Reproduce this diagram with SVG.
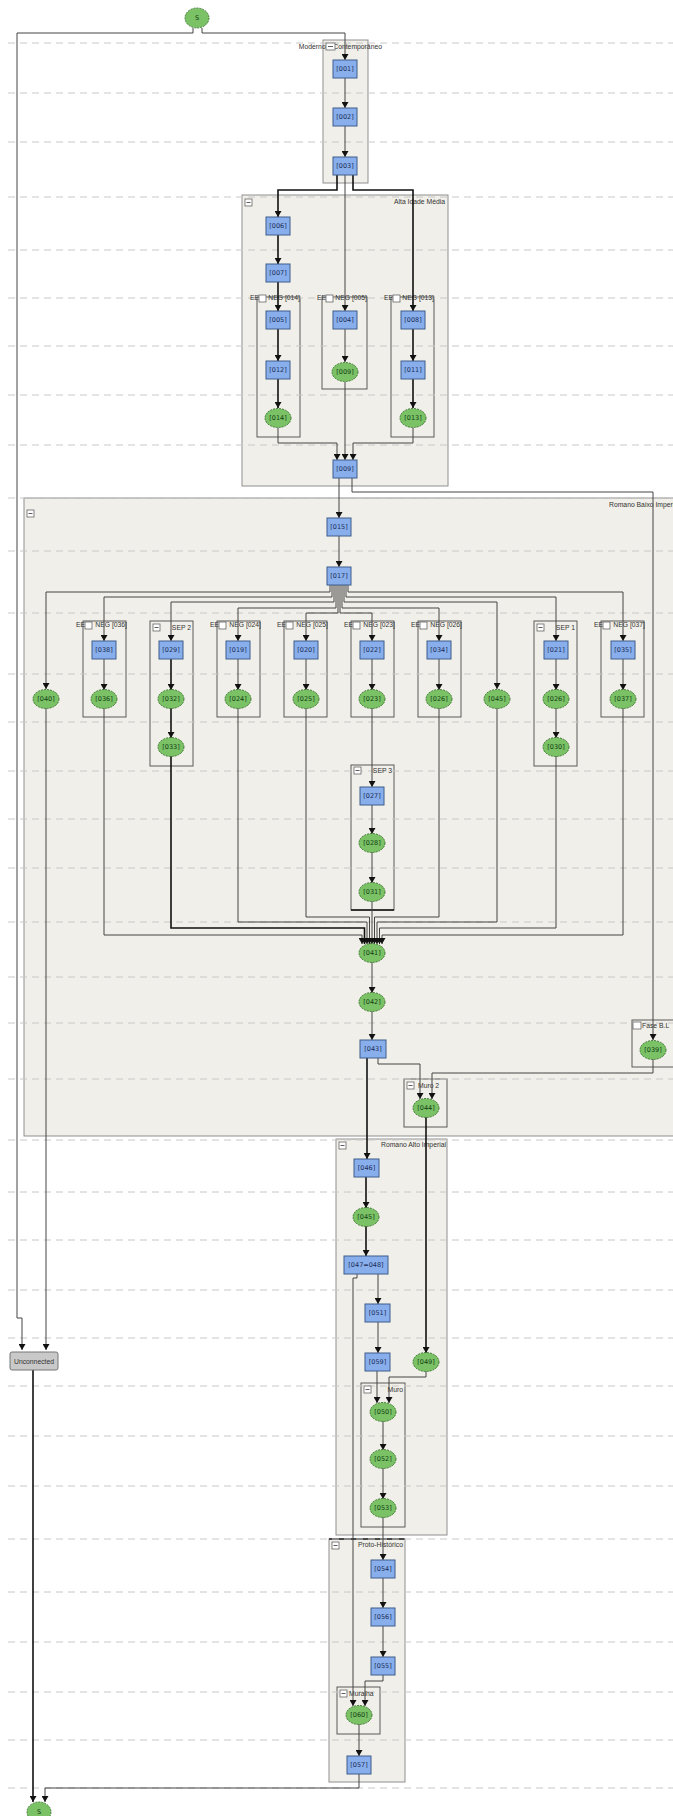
<svg xmlns="http://www.w3.org/2000/svg" width="673" height="1816" viewBox="0 0 673 1816">
<defs>
<marker id="ar" markerUnits="userSpaceOnUse" markerWidth="7" markerHeight="7" refX="6" refY="3.5" orient="auto"><path d="M0,0 L6,3.5 L0,7 z" fill="#111"/></marker>
<style>
.lane{stroke:#c8c8c8;stroke-width:1;stroke-dasharray:7 5}
.grp{fill:#f1efe9;stroke:#8f8f8f;stroke-width:1}
.sub{fill:#f1efe9;stroke:#5a5a5a;stroke-width:1}
.r{fill:#88afec;stroke:#3f5c8c;stroke-width:1}
.e{fill:#7bc267;stroke:#2c6420;stroke-width:0.8;stroke-dasharray:2 1}
.u{fill:#c9c9c9;stroke:#777;stroke-width:1}
.t{font-family:"DejaVu Sans",sans-serif;font-size:6.5px;text-anchor:middle;fill:#1d2c55}
.te{font-family:"DejaVu Sans",sans-serif;font-size:6.5px;text-anchor:middle;fill:#123d12}
.g{font-family:"Liberation Sans",Arial,sans-serif;font-size:6.8px;fill:#333}
.cb{fill:#fff;stroke:#666;stroke-width:0.8}
.c{fill:none;stroke:#444;stroke-width:1;marker-end:url(#ar)}
.k{fill:none;stroke:#111;stroke-width:1.6;marker-end:url(#ar)}
</style>
</defs>
<rect width="673" height="1816" fill="#fff"/>

<g id="containers">
<rect class="grp" x="323" y="40" width="45" height="143"/>
<rect class="grp" x="242" y="195" width="206" height="291"/>
<rect class="sub" x="257" y="297" width="43" height="140"/>
<rect class="sub" x="322" y="297" width="45" height="92"/>
<rect class="sub" x="391" y="297" width="43" height="140"/>
<rect class="grp" x="24" y="498" width="660" height="638"/>
<rect class="sub" x="83" y="621" width="43" height="96"/>
<rect class="sub" x="150" y="621" width="43" height="145"/>
<rect class="sub" x="217" y="621" width="43" height="96"/>
<rect class="sub" x="284" y="621" width="43" height="96"/>
<rect class="sub" x="351" y="621" width="43" height="96"/>
<rect class="sub" x="418" y="621" width="43" height="96"/>
<rect class="sub" x="534" y="621" width="43" height="145"/>
<rect class="sub" x="601" y="621" width="43" height="96"/>
<rect class="sub" x="351" y="765" width="43" height="145"/>
<line x1="351" y1="910" x2="394" y2="910" stroke="#111" stroke-width="1.6"/>
<rect class="sub" x="632" y="1020" width="50" height="47"/>
<rect class="sub" x="404" y="1079" width="43" height="48"/>
<rect class="grp" x="336" y="1139" width="111" height="396"/>
<rect class="sub" x="361" y="1383" width="44" height="144"/>
<rect class="grp" x="329" y="1539" width="76" height="243"/>
<line x1="329" y1="1539" x2="405" y2="1539" stroke="#222" stroke-width="1.4"/>
<rect class="sub" x="337" y="1687" width="43" height="47"/>
</g>

<g id="lanes">
<line class="lane" x1="8" y1="43" x2="673" y2="43"/>
<line class="lane" x1="8" y1="93" x2="673" y2="93"/>
<line class="lane" x1="8" y1="142" x2="673" y2="142"/>
<line class="lane" x1="8" y1="197" x2="673" y2="197"/>
<line class="lane" x1="8" y1="250" x2="673" y2="250"/>
<line class="lane" x1="8" y1="298" x2="673" y2="298"/>
<line class="lane" x1="8" y1="346" x2="673" y2="346"/>
<line class="lane" x1="8" y1="395" x2="673" y2="395"/>
<line class="lane" x1="8" y1="445" x2="673" y2="445"/>
<line class="lane" x1="8" y1="498" x2="673" y2="498"/>
<line class="lane" x1="8" y1="551" x2="673" y2="551"/>
<line class="lane" x1="8" y1="613" x2="673" y2="613"/>
<line class="lane" x1="8" y1="674" x2="673" y2="674"/>
<line class="lane" x1="8" y1="722" x2="673" y2="722"/>
<line class="lane" x1="8" y1="771" x2="673" y2="771"/>
<line class="lane" x1="8" y1="819" x2="673" y2="819"/>
<line class="lane" x1="8" y1="868" x2="673" y2="868"/>
<line class="lane" x1="8" y1="922" x2="673" y2="922"/>
<line class="lane" x1="8" y1="977" x2="673" y2="977"/>
<line class="lane" x1="8" y1="1023" x2="673" y2="1023"/>
<line class="lane" x1="8" y1="1079" x2="673" y2="1079"/>
<line class="lane" x1="8" y1="1140" x2="673" y2="1140"/>
<line class="lane" x1="8" y1="1192" x2="673" y2="1192"/>
<line class="lane" x1="8" y1="1240" x2="673" y2="1240"/>
<line class="lane" x1="8" y1="1290" x2="673" y2="1290"/>
<line class="lane" x1="8" y1="1338" x2="673" y2="1338"/>
<line class="lane" x1="8" y1="1386" x2="673" y2="1386"/>
<line class="lane" x1="8" y1="1436" x2="673" y2="1436"/>
<line class="lane" x1="8" y1="1486" x2="673" y2="1486"/>
<line class="lane" x1="8" y1="1539" x2="673" y2="1539"/>
<line class="lane" x1="8" y1="1592" x2="673" y2="1592"/>
<line class="lane" x1="8" y1="1642" x2="673" y2="1642"/>
<line class="lane" x1="8" y1="1692" x2="673" y2="1692"/>
<line class="lane" x1="8" y1="1740" x2="673" y2="1740"/>
<line class="lane" x1="8" y1="1788" x2="673" y2="1788"/>
</g>

<g id="container-labels">
<text class="g" x="382" y="49" text-anchor="end">Moderno e Contemporâneo</text>
<rect class="cb" x="326" y="43" width="9" height="7"/><line x1="328" y1="46.5" x2="333" y2="46.5" stroke="#333" stroke-width="0.8"/>
<text class="g" x="445" y="204" text-anchor="end">Alta Idade Média</text>
<rect class="cb" x="245" y="199" width="7" height="7"/><line x1="246.5" y1="202.5" x2="250.5" y2="202.5" stroke="#333" stroke-width="0.8"/>

<text class="g" x="259" y="300" text-anchor="end">EE</text>
<rect class="cb" x="259" y="295" width="7" height="7"/>
<text class="g" x="300" y="300" text-anchor="end">NEG [014]</text>
<text class="g" x="326" y="300" text-anchor="end">EE</text>
<rect class="cb" x="326" y="295" width="7" height="7"/>
<text class="g" x="367" y="300" text-anchor="end">NEG [005]</text>
<text class="g" x="393" y="300" text-anchor="end">EE</text>
<rect class="cb" x="393" y="295" width="7" height="7"/>
<text class="g" x="434" y="300" text-anchor="end">NEG [013]</text>

<text class="g" x="609" y="507">Romano Baixo Imperial</text>
<rect class="cb" x="27" y="510" width="7" height="7"/><line x1="28.5" y1="513.5" x2="32.5" y2="513.5" stroke="#333" stroke-width="0.8"/>

<text class="g" x="85" y="627" text-anchor="end">EE</text>
<rect class="cb" x="85" y="622" width="7" height="7"/>
<text class="g" x="127" y="627" text-anchor="end">NEG [036]</text>
<text class="g" x="191" y="630" text-anchor="end">SEP 2</text>
<rect class="cb" x="153" y="624" width="7" height="7"/><line x1="154.5" y1="627.5" x2="158.5" y2="627.5" stroke="#333" stroke-width="0.8"/>
<text class="g" x="219" y="627" text-anchor="end">EE</text>
<rect class="cb" x="219" y="622" width="7" height="7"/>
<text class="g" x="261" y="627" text-anchor="end">NEG [024]</text>
<text class="g" x="286" y="627" text-anchor="end">EE</text>
<rect class="cb" x="286" y="622" width="7" height="7"/>
<text class="g" x="328" y="627" text-anchor="end">NEG [025]</text>
<text class="g" x="353" y="627" text-anchor="end">EE</text>
<rect class="cb" x="353" y="622" width="7" height="7"/>
<text class="g" x="395" y="627" text-anchor="end">NEG [023]</text>
<text class="g" x="420" y="627" text-anchor="end">EE</text>
<rect class="cb" x="420" y="622" width="7" height="7"/>
<text class="g" x="462" y="627" text-anchor="end">NEG [026]</text>
<text class="g" x="575" y="630" text-anchor="end">SEP 1</text>
<rect class="cb" x="537" y="624" width="7" height="7"/><line x1="538.5" y1="627.5" x2="542.5" y2="627.5" stroke="#333" stroke-width="0.8"/>
<text class="g" x="603" y="627" text-anchor="end">EE</text>
<rect class="cb" x="603" y="622" width="7" height="7"/>
<text class="g" x="645" y="627" text-anchor="end">NEG [037]</text>
<text class="g" x="392" y="773" text-anchor="end">SEP 3</text>
<rect class="cb" x="354" y="767" width="7" height="7"/><line x1="355.5" y1="770.5" x2="359.5" y2="770.5" stroke="#333" stroke-width="0.8"/>
<rect class="cb" x="633" y="1022" width="8" height="7"/>
<text class="g" x="642" y="1028">Fase B.L</text>
<text class="g" x="418" y="1088">Muro 2</text>
<rect class="cb" x="407" y="1082" width="7" height="7"/><line x1="408.5" y1="1085.5" x2="412.5" y2="1085.5" stroke="#333" stroke-width="0.8"/>
<text class="g" x="446" y="1147" text-anchor="end">Romano Alto Imperial</text>
<rect class="cb" x="339" y="1142" width="7" height="7"/><line x1="340.5" y1="1145.5" x2="344.5" y2="1145.5" stroke="#333" stroke-width="0.8"/>
<text class="g" x="403" y="1392" text-anchor="end">Muro</text>
<rect class="cb" x="364" y="1386" width="7" height="7"/><line x1="365.5" y1="1389.5" x2="369.5" y2="1389.5" stroke="#333" stroke-width="0.8"/>
<text class="g" x="403" y="1547" text-anchor="end">Proto-Histórico</text>
<rect class="cb" x="332" y="1542" width="7" height="7"/><line x1="333.5" y1="1545.5" x2="337.5" y2="1545.5" stroke="#333" stroke-width="0.8"/>
<text class="g" x="349" y="1696">Muralha</text>
<rect class="cb" x="340" y="1690" width="7" height="7"/><line x1="341.5" y1="1693.5" x2="345.5" y2="1693.5" stroke="#333" stroke-width="0.8"/>
</g>

<g id="connectors">
<path class="c" d="M193,28 V33 H17 V1318 H22 V1350"/>
<path class="c" d="M202,28 V33 H345 V60"/>
<path class="c" d="M345,78 V108"/>
<path class="c" d="M345,126 V157"/>
<path class="k" d="M337,175 V190 H278 V217"/>
<path class="c" d="M345,175 V311"/>
<path class="k" d="M353,175 V190 H413 V311"/>
<path class="k" d="M278,235 V264"/>
<path class="k" d="M278,282 V311"/>
<path class="k" d="M278,329 V361"/>
<path class="k" d="M278,379 V408"/>
<path class="c" d="M345,329 V362"/>
<path class="k" d="M413,329 V361"/>
<path class="k" d="M413,379 V408"/>
<path class="c" d="M278,428 V443 H337 V460"/>
<path class="c" d="M345,382 V460"/>
<path class="c" d="M413,428 V443 H353 V460"/>
<path class="c" d="M339,478 V518"/>
<path class="c" d="M352,478 V492 H653 V1040"/>
<path class="c" d="M339,536 V567"/>
<path class="c" d="M330,585 V592 H46 V689"/>
<path class="c" d="M348,585 V592 H623 V641"/>
<path class="c" d="M332,585 V597 H104 V641"/>
<path class="c" d="M346,585 V597 H556 V641"/>
<path class="c" d="M334,585 V602 H171 V641"/>
<path class="c" d="M344,585 V602 H497 V689"/>
<path class="c" d="M336,585 V608 H238 V641"/>
<path class="c" d="M342,585 V608 H439 V641"/>
<path class="c" d="M338,585 V613 H306 V641"/>
<path class="c" d="M340,585 V613 H372 V641"/>
<path class="c" d="M104,659 V690"/>
<path class="k" d="M171,659 V690"/>
<path class="k" d="M171,708 V738"/>
<path class="c" d="M238,659 V690"/>
<path class="c" d="M306,659 V690"/>
<path class="c" d="M372,659 V690"/>
<path class="c" d="M439,659 V690"/>
<path class="c" d="M556,659 V690"/>
<path class="c" d="M556,708 V738"/>
<path class="c" d="M623,659 V690"/>
<path class="c" d="M46,708 V1350"/>
<path class="c" d="M104,708 V935 H362 V944"/>
<path class="k" d="M171,756 V928 H364.5 V944"/>
<path class="c" d="M238,708 V922 H367 V944"/>
<path class="c" d="M306,708 V917 H369.5 V944"/>
<path class="c" d="M372,708 V787"/>
<path class="c" d="M372,805 V834"/>
<path class="c" d="M372,852 V883"/>
<path class="c" d="M372,901 V944"/>
<path class="c" d="M439,708 V917 H374.5 V944"/>
<path class="c" d="M497,708 V922 H377 V944"/>
<path class="c" d="M556,756 V928 H379.5 V944"/>
<path class="c" d="M623,708 V935 H382 V944"/>
<path class="c" d="M372,962 V993"/>
<path class="c" d="M372,1011 V1040"/>
<path class="k" d="M367,1058 V1159"/>
<path class="c" d="M378,1058 V1064 H420 V1099"/>
<path class="c" d="M653,1059 V1073 H432 V1099"/>
<path class="k" d="M426,1117 V1353"/>
<path class="k" d="M366,1177 V1208"/>
<path class="k" d="M366,1226 V1256"/>
<path class="c" d="M378,1274 V1304"/>
<path class="c" d="M357,1274 V1278 H353 V1706"/>
<path class="c" d="M378,1322 V1353"/>
<path class="c" d="M377,1371 V1403"/>
<path class="c" d="M426,1371 V1377 H389 V1403"/>
<path class="c" d="M383,1421 V1450"/>
<path class="c" d="M383,1468 V1499"/>
<path class="c" d="M383,1517 V1560"/>
<path class="c" d="M383,1578 V1608"/>
<path class="c" d="M383,1626 V1657"/>
<path class="c" d="M383,1675 V1681 H365 V1706"/>
<path class="c" d="M359,1724 V1756"/>
<path class="c" d="M359,1774 V1788 H45 V1802"/>
<path class="k" d="M33,1370 V1802"/>
</g>

<g id="n-start"><ellipse class="e" cx="197" cy="18" rx="12" ry="10"/><text class="te" x="197" y="20">S</text></g>
<g id="n-001"><rect class="r" x="333" y="60" width="24" height="18"/><text class="t" x="345" y="71">[001]</text></g>
<g id="n-002"><rect class="r" x="333" y="108" width="24" height="18"/><text class="t" x="345" y="119">[002]</text></g>
<g id="n-003"><rect class="r" x="333" y="157" width="24" height="18"/><text class="t" x="345" y="168">[003]</text></g>
<g id="n-006"><rect class="r" x="266" y="217" width="24" height="18"/><text class="t" x="278" y="228">[006]</text></g>
<g id="n-007"><rect class="r" x="266" y="264" width="24" height="18"/><text class="t" x="278" y="275">[007]</text></g>
<g id="n-005"><rect class="r" x="266" y="311" width="24" height="18"/><text class="t" x="278" y="322">[005]</text></g>
<g id="n-012"><rect class="r" x="266" y="361" width="24" height="18"/><text class="t" x="278" y="372">[012]</text></g>
<g id="n-014"><ellipse class="e" cx="278" cy="418" rx="13" ry="9.5"/><text class="te" x="278" y="420">[014]</text></g>
<g id="n-004"><rect class="r" x="333" y="311" width="24" height="18"/><text class="t" x="345" y="322">[004]</text></g>
<g id="n-009e"><ellipse class="e" cx="345" cy="372" rx="13" ry="9.5"/><text class="te" x="345" y="374">[009]</text></g>
<g id="n-008"><rect class="r" x="401" y="311" width="24" height="18"/><text class="t" x="413" y="322">[008]</text></g>
<g id="n-011"><rect class="r" x="401" y="361" width="24" height="18"/><text class="t" x="413" y="372">[011]</text></g>
<g id="n-013"><ellipse class="e" cx="413" cy="418" rx="13" ry="9.5"/><text class="te" x="413" y="420">[013]</text></g>
<g id="n-009"><rect class="r" x="333" y="460" width="24" height="18"/><text class="t" x="345" y="471">[009]</text></g>
<g id="n-015"><rect class="r" x="327" y="518" width="24" height="18"/><text class="t" x="339" y="529">[015]</text></g>
<g id="n-017"><rect class="r" x="327" y="567" width="24" height="18"/><text class="t" x="339" y="578">[017]</text></g>
<g id="n-040"><ellipse class="e" cx="46" cy="699" rx="13" ry="9.5"/><text class="te" x="46" y="701">[040]</text></g>
<g id="n-038"><rect class="r" x="92" y="641" width="24" height="18"/><text class="t" x="104" y="652">[038]</text></g>
<g id="n-036"><ellipse class="e" cx="104" cy="699" rx="13" ry="9.5"/><text class="te" x="104" y="701">[036]</text></g>
<g id="n-029"><rect class="r" x="159" y="641" width="24" height="18"/><text class="t" x="171" y="652">[029]</text></g>
<g id="n-032"><ellipse class="e" cx="171" cy="699" rx="13" ry="9.5"/><text class="te" x="171" y="701">[032]</text></g>
<g id="n-033"><ellipse class="e" cx="171" cy="747" rx="13" ry="9.5"/><text class="te" x="171" y="749">[033]</text></g>
<g id="n-019"><rect class="r" x="226" y="641" width="24" height="18"/><text class="t" x="238" y="652">[019]</text></g>
<g id="n-024"><ellipse class="e" cx="238" cy="699" rx="13" ry="9.5"/><text class="te" x="238" y="701">[024]</text></g>
<g id="n-020"><rect class="r" x="294" y="641" width="24" height="18"/><text class="t" x="306" y="652">[020]</text></g>
<g id="n-025"><ellipse class="e" cx="306" cy="699" rx="13" ry="9.5"/><text class="te" x="306" y="701">[025]</text></g>
<g id="n-022"><rect class="r" x="360" y="641" width="24" height="18"/><text class="t" x="372" y="652">[022]</text></g>
<g id="n-023"><ellipse class="e" cx="372" cy="699" rx="13" ry="9.5"/><text class="te" x="372" y="701">[023]</text></g>
<g id="n-034"><rect class="r" x="427" y="641" width="24" height="18"/><text class="t" x="439" y="652">[034]</text></g>
<g id="n-026"><ellipse class="e" cx="439" cy="699" rx="13" ry="9.5"/><text class="te" x="439" y="701">[026]</text></g>
<g id="n-045"><ellipse class="e" cx="497" cy="699" rx="13" ry="9.5"/><text class="te" x="497" y="701">[045]</text></g>
<g id="n-021"><rect class="r" x="544" y="641" width="24" height="18"/><text class="t" x="556" y="652">[021]</text></g>
<g id="n-026b"><ellipse class="e" cx="556" cy="699" rx="13" ry="9.5"/><text class="te" x="556" y="701">[026]</text></g>
<g id="n-030"><ellipse class="e" cx="556" cy="747" rx="13" ry="9.5"/><text class="te" x="556" y="749">[030]</text></g>
<g id="n-035"><rect class="r" x="611" y="641" width="24" height="18"/><text class="t" x="623" y="652">[035]</text></g>
<g id="n-037"><ellipse class="e" cx="623" cy="699" rx="13" ry="9.5"/><text class="te" x="623" y="701">[037]</text></g>
<g id="n-027"><rect class="r" x="360" y="787" width="24" height="18"/><text class="t" x="372" y="798">[027]</text></g>
<g id="n-028"><ellipse class="e" cx="372" cy="843" rx="13" ry="9.5"/><text class="te" x="372" y="845">[028]</text></g>
<g id="n-031"><ellipse class="e" cx="372" cy="892" rx="13" ry="9.5"/><text class="te" x="372" y="894">[031]</text></g>
<g id="n-041"><ellipse class="e" cx="372" cy="953" rx="13" ry="9.5"/><text class="te" x="372" y="955">[041]</text></g>
<g id="n-042"><ellipse class="e" cx="372" cy="1002" rx="13" ry="9.5"/><text class="te" x="372" y="1004">[042]</text></g>
<g id="n-043"><rect class="r" x="360" y="1040" width="26" height="18"/><text class="t" x="373" y="1051">[043]</text></g>
<g id="n-039"><ellipse class="e" cx="653" cy="1050" rx="13" ry="9.5"/><text class="te" x="653" y="1052">[039]</text></g>
<g id="n-044"><ellipse class="e" cx="426" cy="1108" rx="13" ry="9.5"/><text class="te" x="426" y="1110">[044]</text></g>
<g id="n-046"><rect class="r" x="354" y="1159" width="25" height="18"/><text class="t" x="366.5" y="1170">[046]</text></g>
<g id="n-045b"><ellipse class="e" cx="366" cy="1217" rx="13" ry="9.5"/><text class="te" x="366" y="1219">[045]</text></g>
<g id="n-047"><rect class="r" x="344" y="1256" width="44" height="18"/><text class="t" x="366" y="1267">[047=048]</text></g>
<g id="n-051"><rect class="r" x="365" y="1304" width="25" height="18"/><text class="t" x="377.5" y="1315">[051]</text></g>
<g id="n-059"><rect class="r" x="365" y="1353" width="25" height="18"/><text class="t" x="377.5" y="1364">[059]</text></g>
<g id="n-049"><ellipse class="e" cx="426" cy="1362" rx="13" ry="9.5"/><text class="te" x="426" y="1364">[049]</text></g>
<g id="n-050"><ellipse class="e" cx="383" cy="1412" rx="13" ry="9.5"/><text class="te" x="383" y="1414">[050]</text></g>
<g id="n-052"><ellipse class="e" cx="383" cy="1459" rx="13" ry="9.5"/><text class="te" x="383" y="1461">[052]</text></g>
<g id="n-053"><ellipse class="e" cx="383" cy="1508" rx="13" ry="9.5"/><text class="te" x="383" y="1510">[053]</text></g>
<g id="n-054"><rect class="r" x="371" y="1560" width="24" height="18"/><text class="t" x="383" y="1571">[054]</text></g>
<g id="n-056"><rect class="r" x="371" y="1608" width="24" height="18"/><text class="t" x="383" y="1619">[056]</text></g>
<g id="n-055"><rect class="r" x="371" y="1657" width="24" height="18"/><text class="t" x="383" y="1668">[055]</text></g>
<g id="n-060"><ellipse class="e" cx="359" cy="1715" rx="13" ry="9.5"/><text class="te" x="359" y="1717">[060]</text></g>
<g id="n-057"><rect class="r" x="347" y="1756" width="24" height="18"/><text class="t" x="359" y="1767">[057]</text></g>
<g id="n-unconnected"><rect class="u" x="10" y="1352" width="48" height="18" rx="2"/><text class="g" x="34" y="1363.5" text-anchor="middle">Unconnected</text></g>
<g id="n-end"><ellipse class="e" cx="39" cy="1812" rx="12" ry="10"/><text class="te" x="39" y="1814">S</text></g>
</svg>
